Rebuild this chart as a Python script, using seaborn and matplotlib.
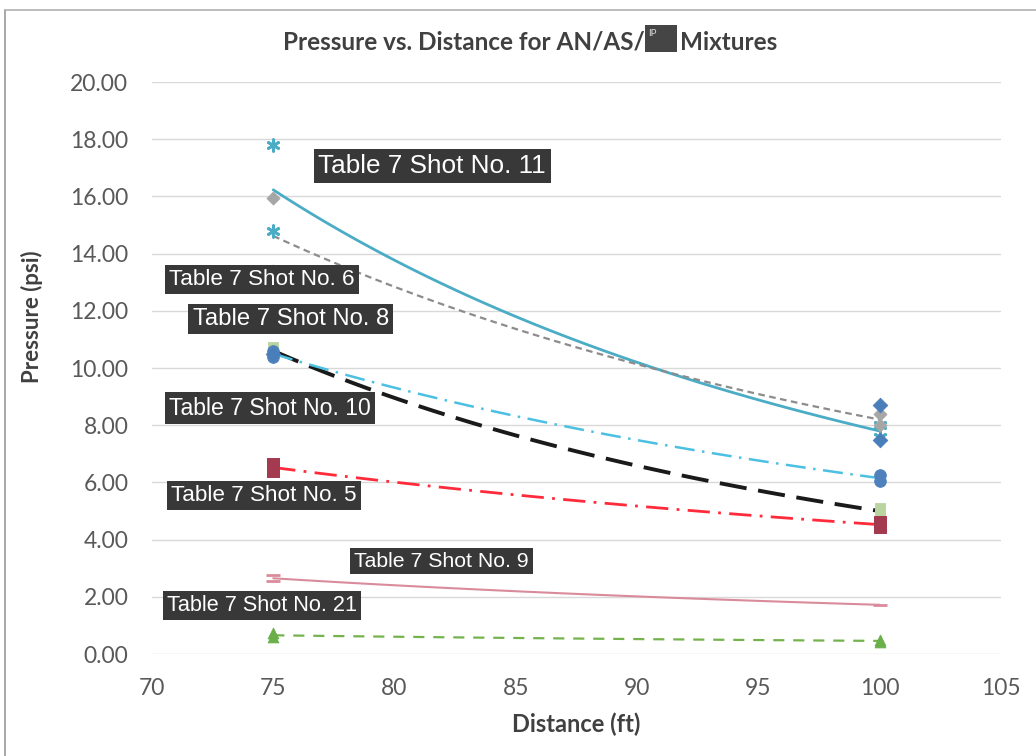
import numpy as np
import pandas as pd
import matplotlib
matplotlib.use('Agg')
import matplotlib.pyplot as plt
import seaborn as sns
from matplotlib.lines import Line2D
from matplotlib.patches import Rectangle

# readings per shot: distance (ft) and pressure (psi)
shot11_dist = [75, 75, 100, 100]
shot11_psi = [17.8, 14.8, 8.0, 7.6]
shot6_dist = [75, 75, 100, 100]
shot6_psi = [15.95, 13.4, 8.4, 8.0]
shot8_dist = [75, 75, 100, 100]
shot8_psi = [10.75, 10.45, 5.1, 4.9]
shot10_dist = [75, 75, 100, 100]
shot10_psi = [10.6, 10.4, 6.25, 6.05]
shot5_dist = [75, 75, 100, 100]
shot5_psi = [6.65, 6.4, 4.6, 4.45]
shot9_dist = [75, 75, 100]
shot9_psi = [2.75, 2.55, 1.72]
shot21_dist = [75, 75, 100, 100]
shot21_psi = [0.74, 0.58, 0.5, 0.42]
# extra gauge readings (no trend line)
extra_dist = [75, 100, 100]
extra_psi = [10.5, 8.7, 7.5]

shot_names = ['11', '6', '8', '10', '5', '9', '21']
label_x = [81.55, 74.53, 75.72, 74.86, 74.63, 81.94, 74.53]
label_y = [17.06, 13.11, 11.71, 8.60, 5.54, 3.25, 1.71]
label_size = [18.8, 16.2, 17.2, 16.6, 16.2, 15.3, 15.6]

series = {
    '11': (shot11_dist, shot11_psi),
    '6': (shot6_dist, shot6_psi),
    '8': (shot8_dist, shot8_psi),
    '10': (shot10_dist, shot10_psi),
    '5': (shot5_dist, shot5_psi),
    '9': (shot9_dist, shot9_psi),
    '21': (shot21_dist, shot21_psi),
}

# styles: line color, line style, width, marker, marker color, marker size
styles = {
    '11': ('#4BACC6', '-', 2.0, (6, 2, 0), '#4BACC6', 70),
    '6': ('#8C8C8C', (0, (3, 2)), 1.6, 'D', '#A6A6A6', 45),
    '8': ('#1A1A1A', (0, (7, 3)), 2.8, 's', '#B9D49E', 55),
    '10': ('#4CC0E2', (0, (8, 3, 1, 3)), 1.8, 'o', '#4F81BD', 70),
    '5': ('#FF2B3A', (0, (8, 3, 1, 3)), 2.0, 's', '#A33A50', 80),
    '9': ('#D98B9B', '-', 1.5, '_', '#D98B9B', 90),
    '21': ('#74B34C', (0, (5, 4)), 1.6, '^', '#6AAF4A', 60),
}

sns.set_theme(style='white')
plt.rcParams['font.family'] = ['Lato', 'DejaVu Sans']

fig = plt.figure(figsize=(10.36, 7.56), dpi=100)
ax = fig.add_axes([0.1467, 0.1349, 0.8195, 0.7566])

xs = np.linspace(75, 100, 80)
for name in shot_names:
    d, p = series[name]
    lc, ls, lw, mk, mc, ms = styles[name]
    b, a = np.polyfit(np.log(d), np.log(p), 1)
    fit = np.exp(a) * xs ** b
    sns.lineplot(x=xs, y=fit, ax=ax, color=lc, linestyle=ls, linewidth=lw, zorder=3)
    if mk in ('_', (6, 2, 0)):
        sns.scatterplot(x=d, y=p, ax=ax, marker=mk, s=ms, color=mc, linewidth=2, zorder=4)
    else:
        sns.scatterplot(x=d, y=p, ax=ax, marker=mk, s=ms, color=mc, edgecolor=mc, zorder=4)

sns.scatterplot(x=extra_dist, y=extra_psi, ax=ax, marker='D', s=55, color='#4A7EBB',
                edgecolor='#4A7EBB', zorder=4)

for name, lx, ly, fs in zip(shot_names, label_x, label_y, label_size):
    ax.text(lx, ly, f'Table 7 Shot No. {name}', ha='center', va='center', color='white',
            fontsize=fs, family=['Liberation Sans', 'DejaVu Sans'], zorder=6,
            bbox=dict(boxstyle='square,pad=0.18', facecolor='#383838', edgecolor='none'))

ax.set_xlim(70, 105)
ax.set_ylim(0, 20)
ax.set_xticks(np.arange(70, 106, 5))
ax.set_yticks(np.arange(0, 21, 2))
ax.set_yticklabels([f'{v:.2f}' for v in np.arange(0, 21, 2)])
ax.tick_params(axis='both', length=0, labelsize=16.5, labelcolor='#595959')
ax.tick_params(axis='y', pad=17)
ax.tick_params(axis='x', pad=17)
ax.grid(axis='y', color='#D9D9D9', linewidth=1)
ax.set_axisbelow(True)
for s in ax.spines.values():
    s.set_visible(False)

ax.set_xlabel('Distance (ft)', fontsize=17, fontweight='bold', color='#404040')
ax.set_ylabel('Pressure (psi)', fontsize=16, fontweight='bold', color='#404040')
ax.xaxis.set_label_coords(0.5, -0.103)
ax.yaxis.set_label_coords(-0.128, 0.59)

# title with redacted block
fig.text(0.6226, 0.944, 'Pressure vs. Distance for AN/AS/', ha='right', va='center',
         fontsize=17.5, fontweight='bold', color='#404040')
fig.patches.append(Rectangle((645 / 1036, 0.931), 32 / 1036, 0.036, transform=fig.transFigure,
                             facecolor='#454545', edgecolor='none'))
fig.text(648 / 1036, 0.962, 'IP', ha='left', va='top', fontsize=7, color='#DDDDDD')
fig.text(680 / 1036, 0.944, 'Mixtures', ha='left', va='center',
         fontsize=17.5, fontweight='bold', color='#404040')

# chart frame edges
fig.lines.append(Line2D([5 / 1036, 5 / 1036], [0, 1 - 10 / 756], transform=fig.transFigure,
                        color='#9A9A9A', linewidth=1.2))
fig.lines.append(Line2D([5 / 1036, 1], [1 - 10 / 756, 1 - 10 / 756], transform=fig.transFigure,
                        color='#B0B0B0', linewidth=1.2))

fig.savefig('out.png', dpi=100, facecolor='white')
